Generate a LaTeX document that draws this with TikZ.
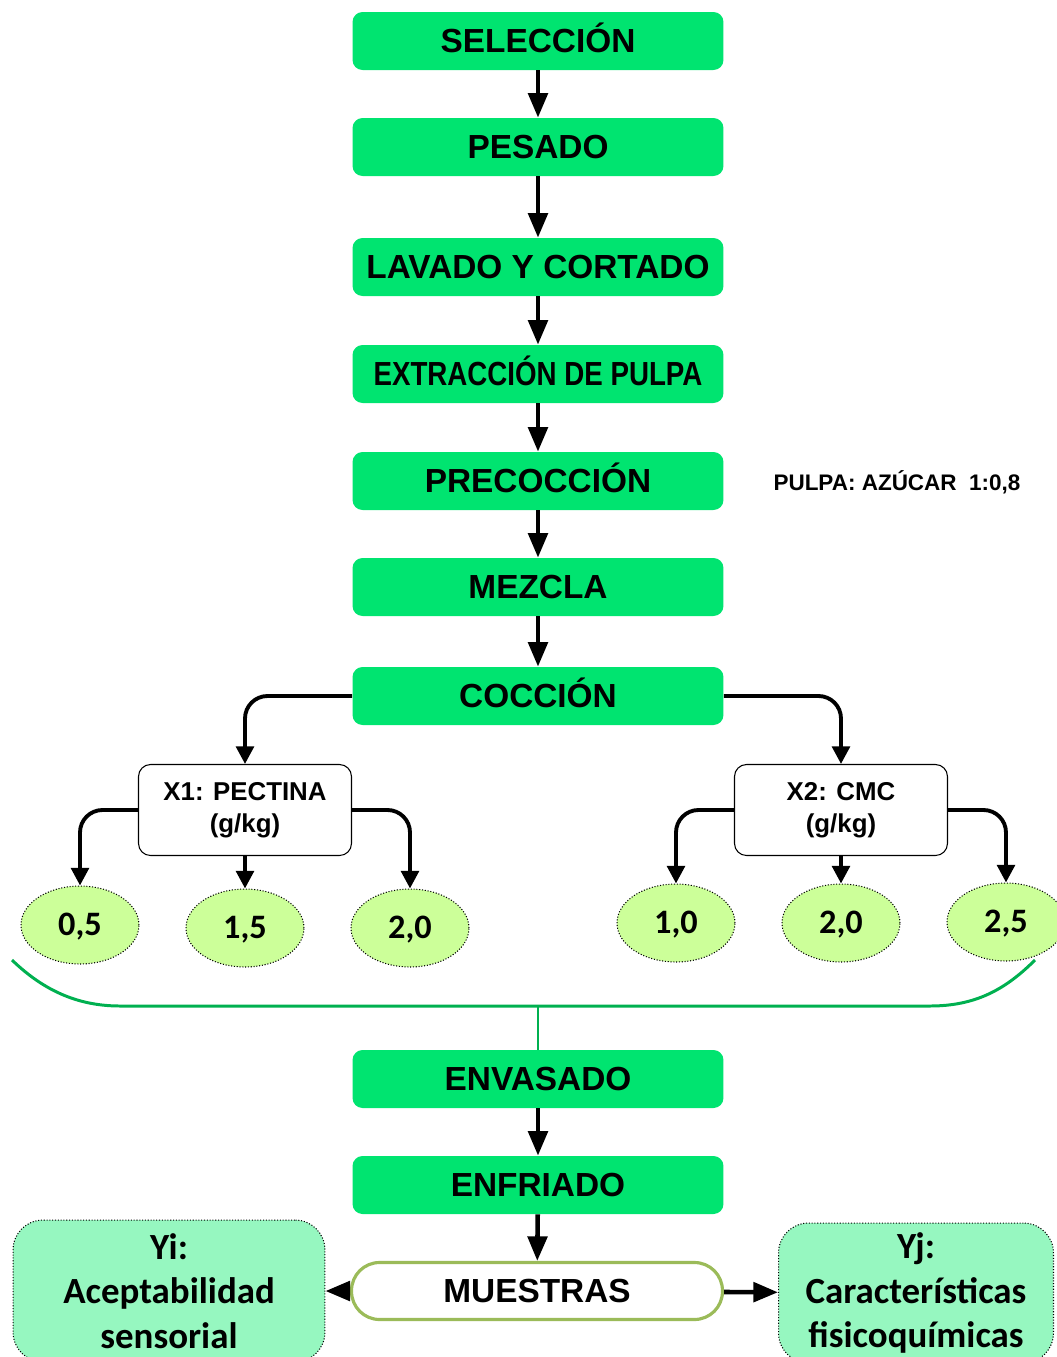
\documentclass[tikz,border=0pt]{standalone}
\usepackage{fontspec}
\setmainfont{Liberation Sans}
\newfontfamily\calfont{Carlito}
\usetikzlibrary{shapes, arrows.meta}
\definecolor{procgreen}{RGB}{0,228,112}
\definecolor{levelgreen}{RGB}{204,255,153}
\definecolor{respgreen}{RGB}{150,247,192}
\definecolor{olivebord}{RGB}{155,187,89}
\definecolor{bracegreen}{RGB}{0,176,80}

\begin{document}
\begin{tikzpicture}[x=0.02cm, y=-0.02cm]
	\tikzstyle{every node} = [align=center, inner sep=0pt]
	\tikzstyle{proc} = [rectangle, rounded corners=0.2cm, fill=procgreen, minimum width=7.42cm, minimum height=1.16cm, text height=13.6pt, text depth=0pt, font=\fontsize{19}{22}\selectfont\bfseries]
	\tikzstyle{sample} = [rectangle, rounded corners=0.56cm, fill=white, draw=olivebord, line width=1.8pt, minimum width=7.42cm, minimum height=1.14cm, text height=13.6pt, text depth=0pt, font=\fontsize{19}{22}\selectfont\bfseries]
	\tikzstyle{factor} = [rectangle, rounded corners=0.24cm, fill=white, draw=black, line width=0.6pt, minimum width=4.26cm, minimum height=1.82cm, font=\fontsize{14.7}{18}\selectfont\bfseries]
	\tikzstyle{level} = [ellipse, fill=levelgreen, draw=black, densely dotted, line width=0.6pt, minimum width=2.36cm, minimum height=1.56cm, text height=12.3pt, text depth=0pt, font=\calfont\fontsize{19.5}{22}\selectfont\bfseries]
	\tikzstyle{resp} = [rectangle, rounded corners=0.6cm, fill=respgreen, draw=black, densely dotted, line width=0.6pt, font=\calfont\fontsize{21}{25.5}\selectfont\bfseries]
	\tikzstyle{note} = [font=\fontsize{12.8}{15}\selectfont\bfseries]
	\tikzstyle{flow} = [line width=2.6pt, >={Triangle[length=14pt, width=11pt]}]
	\tikzstyle{branch} = [line width=2.2pt, rounded corners=0.45cm, >={Triangle[length=10pt, width=10pt]}]
	\useasboundingbox (0,0) rectangle (1056,1357);

	\node[proc] (seleccion) at (538,41) {SELECCIÓN};
	\node[proc] (pesado) at (538,147) {PESADO};
	\node[proc] (lavado) at (538,267) {LAVADO Y CORTADO};
	\node[proc] (extraccion) at (538,374) {\scalebox{0.83}[1]{EXTRACCIÓN DE PULPA}};
	\node[proc] (precoccion) at (538,481) {PRECOCCIÓN};
	\node[proc] (mezcla) at (538,587) {MEZCLA};
	\node[proc] (coccion) at (538,696) {COCCIÓN};
	\node[note] (relacion) at (897,482) {PULPA: AZÚCAR\ \ 1:0,8};

	\node[factor] (pectina) at (245,810) {X1: PECTINA\\(g/kg)};
	\node[factor] (cmc) at (841,810) {X2: CMC\\(g/kg)};
	\node[level] (p05) at (80,925) {0,5};
	\node[level] (p15) at (245,928) {1,5};
	\node[level] (p20) at (410,928) {2,0};
	\node[level] (c10) at (676,923) {1,0};
	\node[level] (c20) at (841,923) {2,0};
	\node[level] (c25) at (1006,922) {2,5};

	\node[proc] (envasado) at (538,1079) {ENVASADO};
	\node[proc] (enfriado) at (538,1185) {ENFRIADO};
	\node[sample] (muestras) at (537,1291) {MUESTRAS};
	\node[resp, minimum width=6.24cm, minimum height=2.84cm] (yi) at (169,1291) {Yi:\\Aceptabilidad\\sensorial};
	\node[resp, minimum width=5.5cm, minimum height=2.8cm] (yj) at (916,1293) {Yj:\\Características\\fisicoquímicas};

	%brace joining all the samples
	\coordinate (brace_l) at (12,960);
	\coordinate (brace_r) at (1035,960);
	\coordinate (brace_mid) at (538,1006);
	\draw[bracegreen, line width=1.7pt] (brace_l) .. controls (45,992) and (80,1006) .. (120,1006) -- (930,1006) .. controls (975,1006) and (1005,990) .. (brace_r);
	\draw[bracegreen, line width=1.4pt] (brace_mid) -- (envasado);

	\draw[flow]
	(seleccion) edge[->] (pesado)
	(pesado) edge[->] (lavado)
	(lavado) edge[->] (extraccion)
	(extraccion) edge[->] (precoccion)
	(precoccion) edge[->] (mezcla)
	(mezcla) edge[->] (coccion)
	(envasado) edge[->] (enfriado)
	(enfriado) edge[->] (muestras)
	(muestras) edge[->] (yi)
	(muestras) edge[->] (yj)
	;
	\draw[branch, ->] (coccion.west) -| (pectina.north);
	\draw[branch, ->] (coccion.east) -| (cmc.north);
	\draw[branch, ->] (pectina.west) -| (p05.north);
	\draw[branch, ->] (pectina.east) -| (p20.north);
	\draw[branch, ->] (pectina) -- (p15);
	\draw[branch, ->] (cmc.west) -| (c10.north);
	\draw[branch, ->] (cmc.east) -| (c25.north);
	\draw[branch, ->] (cmc) -- (c20);
\end{tikzpicture}
\end{document}
